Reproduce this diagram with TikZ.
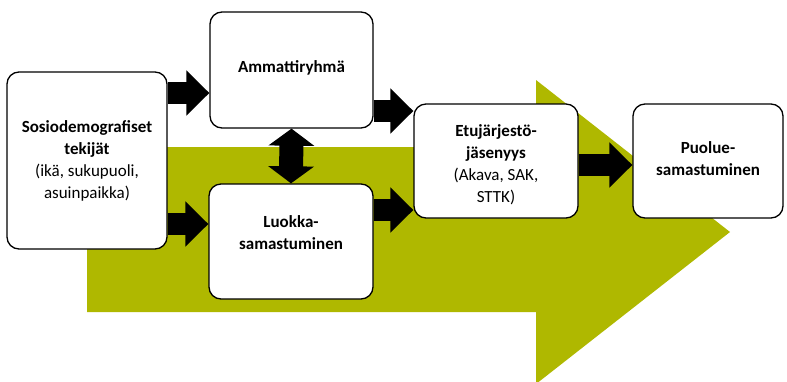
\documentclass[tikz,border=0pt]{standalone}
\usepackage{fontspec}
\setmainfont{Carlito}
\usetikzlibrary{arrows.meta,calc}
\definecolor{olive}{RGB}{175,184,0}
\begin{document}
\begin{tikzpicture}[x=1pt,y=-1pt,
  box/.style={draw=black,line width=1.3pt,fill=white,rounded corners=12pt,align=center,inner sep=0pt},
  lbl/.style={align=center,inner sep=0pt,font=\fontsize{17}{22}\selectfont},
  blk/.style={line width=22pt,-{Triangle[length=23pt,width=44pt]}},
  dbl/.style={line width=24pt,{Triangle[length=17pt,width=45pt]}-{Triangle[length=17pt,width=45pt]}}]
\useasboundingbox (0,0) rectangle (787,381);
% big green arrow
\fill[olive] (87,147) -- (536,147) -- (536,80) -- (730,232) -- (536,384) -- (536,312) -- (87,312) -- cycle;
% boxes
\node[box,minimum width=160pt,minimum height=177pt] (sos) at (87,160.5) {};
\node[box,minimum width=163pt,minimum height=116pt] (amm) at (291.5,70) {};
\node[box,minimum width=164pt,minimum height=115pt] (luo) at (291,241.5) {};
\node[box,minimum width=164pt,minimum height=114pt] (etu) at (496,161) {};
\node[box,minimum width=150pt,minimum height=114pt] (puo) at (708,161) {};
% arrows
\draw[blk] (sos.east |- 0,93) -- (amm.west |- 0,93);
\draw[blk] (sos.east |- 0,224) -- (luo.west |- 0,224);
\draw[blk] (amm.east |- 0,111) -- (etu.west |- 0,111);
\draw[blk] (luo.east |- 0,210) -- (etu.west |- 0,210);
\draw[blk] (etu.east |- 0,165) -- (puo.west |- 0,165);
\draw[dbl] (amm.south) -- (luo.north);
% labels
\node[lbl] (tsos) at (87,161) {\textbf{Sosiodemografiset}\\\textbf{tekijät}\\(ikä, sukupuoli,\\asuinpaikka)};
\node[lbl] (tamm) at (291.5,68) {\textbf{Ammattiryhmä}};
\node[lbl] (tluo) at (291,233) {\textbf{Luokka-}\\\textbf{samastuminen}};
\node[lbl] (tetu) at (496,165) {\textbf{Etujärjestö-}\\\textbf{jäsenyys}\\(Akava, SAK,\\STTK)};
\node[lbl] (tpuo) at (708,158.5) {\textbf{Puolue-}\\\textbf{samastuminen}};
\end{tikzpicture}
\end{document}
